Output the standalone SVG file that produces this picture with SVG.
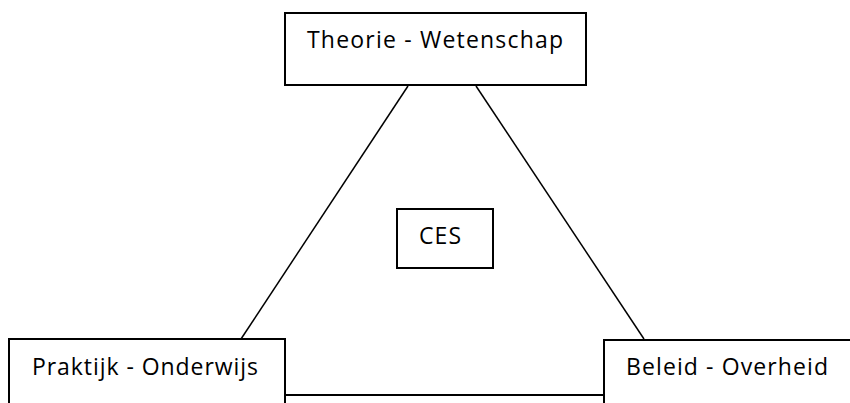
<svg xmlns="http://www.w3.org/2000/svg" width="850" height="403" viewBox="0 0 850 403">
<style>
.box{fill:#fff;stroke:#000;stroke-width:2}
.ln{stroke:#000;stroke-width:1.5;fill:none}
text{font-family:"Open Sans","Noto Sans","DejaVu Sans",sans-serif;font-size:23px;fill:#000}
</style>
<rect width="850" height="403" fill="#fff"/>
<g id="connectors">
<line class="ln" x1="408" y1="86" x2="241" y2="339"/>
<line class="ln" x1="476" y1="86" x2="644" y2="339"/>
</g>
<g id="theorie">
<rect class="box" x="285" y="13" width="301" height="72"/>
<text x="307" y="48" textLength="256">Theorie - Wetenschap</text>
</g>
<g id="ces">
<rect class="box" x="397" y="209" width="96" height="59"/>
<text x="419" y="244" textLength="42">CES</text>
</g>
<g id="praktijk">
<rect class="box" x="9" y="339" width="276" height="80"/>
<text x="32" y="375" textLength="226">Praktijk - Onderwijs</text>
</g>
<g id="beleid">
<rect class="box" x="604" y="340" width="260" height="80"/>
<text x="626" y="375" textLength="202">Beleid - Overheid</text>
</g>
<g id="bottom">
<rect class="box" x="285" y="395" width="319" height="30"/>
</g>
</svg>
